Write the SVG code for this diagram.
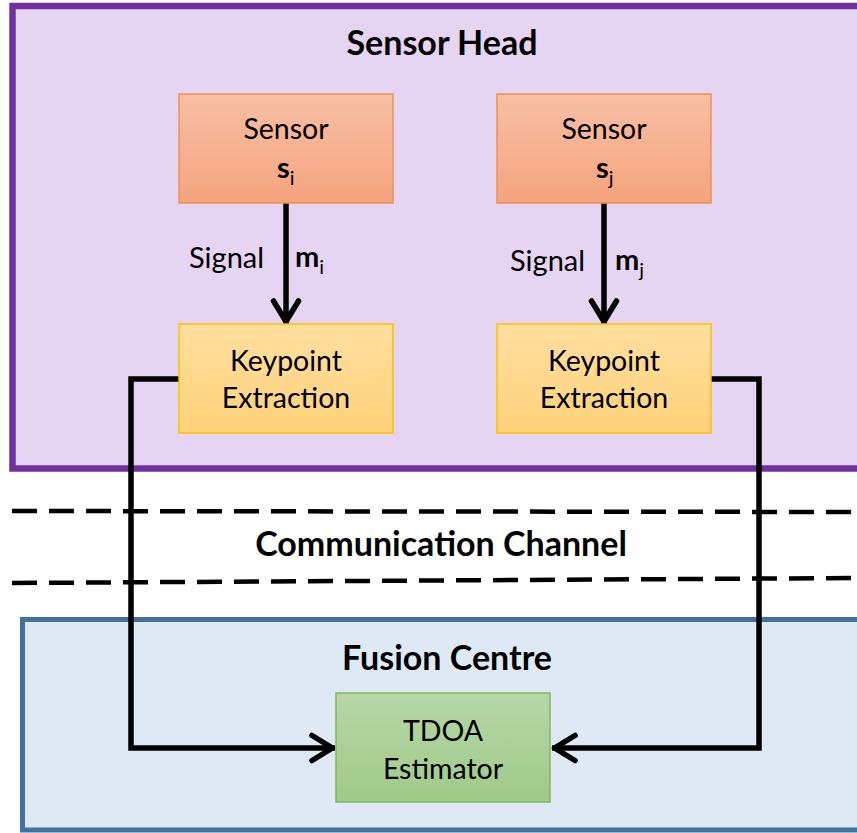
<svg xmlns="http://www.w3.org/2000/svg" width="857" height="833" viewBox="0 0 857 833">
<defs>
<linearGradient id="gOrange" x1="0" y1="0" x2="0" y2="1"><stop offset="0" stop-color="#F7BFA4"/><stop offset="1" stop-color="#F5A47E"/></linearGradient>
<linearGradient id="gYellow" x1="0" y1="0" x2="0" y2="1"><stop offset="0" stop-color="#FFDF9F"/><stop offset="1" stop-color="#FFD27A"/></linearGradient>
<linearGradient id="gGreen" x1="0" y1="0" x2="0" y2="1"><stop offset="0" stop-color="#B6D7A7"/><stop offset="1" stop-color="#A0CA88"/></linearGradient>
<marker id="arr" markerUnits="userSpaceOnUse" markerWidth="40" markerHeight="40" viewBox="-30 -20 40 40" refX="0" refY="0" orient="auto">
<path d="M-23,-12.5 L-2.5,0 L-23,12.5" fill="none" stroke="#000" stroke-width="5.5" stroke-linecap="round" stroke-linejoin="round"/>
</marker>
<style>
.t{font-family:Lato,"Open Sans","Liberation Sans",sans-serif;fill:#000;}
.title{font-size:34px;font-weight:bold;text-anchor:middle;}
.lbl{font-size:28.5px;text-anchor:middle;}
.sig{font-size:29px;}
.b{font-weight:bold;}
.sub{font-size:20px;}
.conn{fill:none;stroke:#000;stroke-width:5.5;stroke-linejoin:miter;}
.sensor{fill:url(#gOrange);stroke:#F19053;stroke-width:1.5;}
.kp{fill:url(#gYellow);stroke:#FFC000;stroke-width:1.5;}
.est{fill:url(#gGreen);stroke:#7DB95B;stroke-width:1.5;}
.dash{stroke:#000;stroke-width:4.5;stroke-dasharray:25 12;fill:none;}
</style>
</defs>

<g id="sensor-head">
<rect x="12.5" y="6" width="860" height="462.5" fill="#E5D5F2" stroke="#7030A0" stroke-width="6.5"/>
<text class="t title" x="442" y="55">Sensor Head</text>
</g>

<g id="fusion-centre">
<rect x="22.5" y="619.5" width="850" height="210.5" fill="#DEE9F5" stroke="#41719C" stroke-width="5"/>
<text class="t title" x="447" y="670">Fusion Centre</text>
</g>

<g id="communication-channel">
<line class="dash" x1="12" y1="511" x2="857" y2="512"/>
<line class="dash" x1="12" y1="583" x2="857" y2="578"/>
<text class="t title" x="441" y="556">Communication Channel</text>
</g>

<g id="connectors">
<line class="conn" x1="286" y1="203" x2="286" y2="324" marker-end="url(#arr)"/>
<line class="conn" x1="604" y1="203" x2="604" y2="324" marker-end="url(#arr)"/>
<polyline class="conn" points="179,379 131,379 131,748 335,748" marker-end="url(#arr)"/>
<polyline class="conn" points="711,379 759,379 759,748 552,748" marker-end="url(#arr)"/>
</g>

<g id="sensor-i">
<rect class="sensor" x="179" y="94" width="214" height="109"/>
<text class="t lbl" x="286" y="139">Sensor</text>
<text class="t sig" x="277" y="178"><tspan class="b">s</tspan><tspan class="sub" dy="7">i</tspan></text>
</g>

<g id="sensor-j">
<rect class="sensor" x="497" y="94" width="214" height="109"/>
<text class="t lbl" x="604" y="139">Sensor</text>
<text class="t sig" x="596" y="178"><tspan class="b">s</tspan><tspan class="sub" dy="7">j</tspan></text>
</g>

<g id="signal-i">
<text class="t sig" x="189" y="268">Signal</text>
<text class="t sig" x="295" y="267"><tspan class="b">m</tspan><tspan class="sub" dy="7">i</tspan></text>
</g>

<g id="signal-j">
<text class="t sig" x="510" y="271">Signal</text>
<text class="t sig" x="615" y="270"><tspan class="b">m</tspan><tspan class="sub" dy="7">j</tspan></text>
</g>

<g id="keypoint-i">
<rect class="kp" x="179" y="324" width="214" height="109"/>
<text class="t lbl" x="286" y="371">Keypoint</text>
<text class="t lbl" x="286" y="408">Extraction</text>
</g>

<g id="keypoint-j">
<rect class="kp" x="497" y="324" width="214" height="109"/>
<text class="t lbl" x="604" y="371">Keypoint</text>
<text class="t lbl" x="604" y="408">Extraction</text>
</g>

<g id="tdoa-estimator">
<rect class="est" x="336" y="693" width="214" height="109"/>
<text class="t lbl" x="443" y="741">TDOA</text>
<text class="t lbl" x="443" y="779">Estimator</text>
</g>
</svg>
